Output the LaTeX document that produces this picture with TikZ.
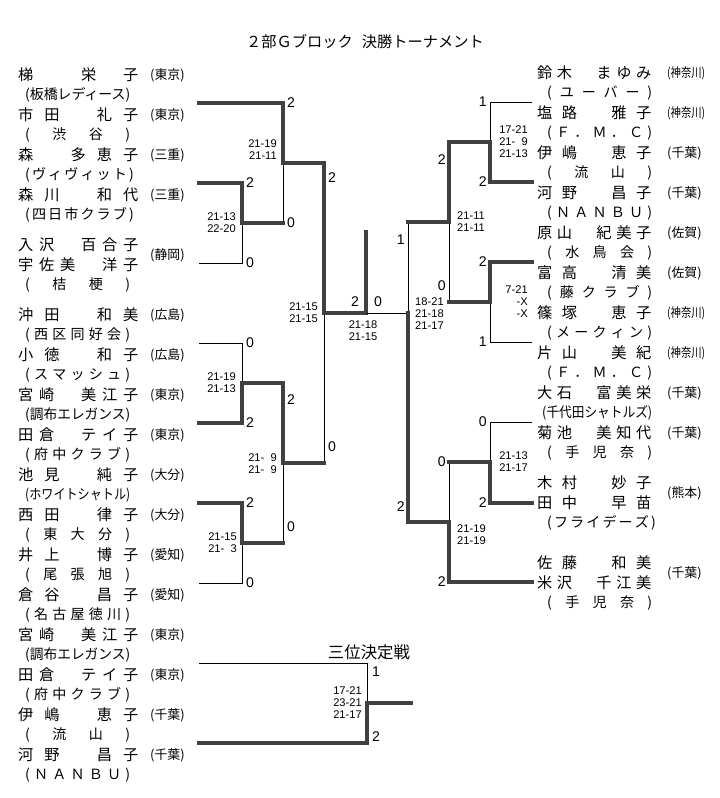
\documentclass[tikz,border=0pt]{standalone}
\usepackage{fontspec}
\usepackage{graphicx}
\setmainfont{Noto Sans CJK JP}
\newfontfamily\latinsf{Liberation Sans}
\newcommand\nm[2][3.6cm]{\makebox[#1][s]{#2}}
\newcommand\tm[1]{\makebox[3.15cm][s]{#1}}
\newcommand\tmc[2][3.15cm]{\resizebox{#1}{\height}{#2}}
\newcommand\kng{\resizebox{1.14cm}{\height}{(神奈川)}}
\tikzset{
  win/.style={line width=3pt,black!75,line cap=rect},
  lose/.style={line width=0.75pt,black},
  plyr/.style={anchor=west,inner sep=0pt,font=\fontsize{13}{13}\selectfont},
  club/.style={anchor=west,inner sep=0pt,font=\fontsize{12}{12}\selectfont},
  pref/.style={anchor=west,inner sep=0pt,font=\fontsize{11}{11}\selectfont},
  gl/.style={inner sep=0pt,font=\latinsf\fontsize{12}{12}\selectfont},
  sco/.style={inner sep=0pt,font=\latinsf\fontsize{9.5}{10.3}\selectfont},
}
\begin{document}
\begin{tikzpicture}[x=0.03cm,y=-0.03cm]
  \useasboundingbox (0,0) rectangle (720,798);
  \node[font=\fontsize{13}{13}\selectfont] (title) at (365,42) {２部Ｇブロック\hspace{0.6em}決勝トーナメント};

  % left half
  \coordinate (L1) at (199,103);
  \coordinate (L2) at (199,183);
  \coordinate (L3) at (199,263);
  \coordinate (L4) at (199,343);
  \coordinate (L5) at (199,423);
  \coordinate (L6) at (199,503);
  \coordinate (L7) at (199,583);
  \coordinate (mB) at (242,223);
  \coordinate (mA) at (283,163);
  \coordinate (mE) at (242,383);
  \coordinate (mF) at (242,543);
  \coordinate (mD) at (283,463);
  \coordinate (mC) at (324,313);
  \coordinate (fin) at (366,313);
  \coordinate (champ) at (366,232);

  \draw[lose] (L3) -| (mB);
  \draw[lose] (mB -| mA) -- (mA);
  \draw[lose] (L4) -| (mE);
  \draw[lose] (L7) -| (mF);
  \draw[lose] (mF -| mD) -- (mD);
  \draw[lose] (mD -| mC) -- (mC);
  \draw[win] (L1) -| (mA);
  \draw[win] (L2) -| (mB);
  \draw[win] (mB) -- (mB -| mA);
  \draw[win] (mA) -| (mC);
  \draw[win] (L5) -| (mE);
  \draw[win] (mE) -| (mD);
  \draw[win] (L6) -| (mF);
  \draw[win] (mF) -- (mF -| mD);
  \draw[win] (mD) -- (mD -| mC);
  \draw[win] (mC) -- (fin) -- (champ);

  % right half
  \coordinate (R1) at (532,102);
  \coordinate (R2) at (532,182);
  \coordinate (R3) at (532,262);
  \coordinate (R4) at (532,342);
  \coordinate (R5) at (532,422);
  \coordinate (R6) at (532,503);
  \coordinate (R7) at (532,582);
  \coordinate (n1) at (490,142);
  \coordinate (n2) at (490,302);
  \coordinate (n3) at (449,222);
  \coordinate (n4) at (490,462);
  \coordinate (n5) at (449,522);
  \coordinate (n6) at (408,313);

  \draw[lose] (R1) -| (n1);
  \draw[lose] (R4) -| (n2);
  \draw[lose] (n2 -| n3) -- (n3);
  \draw[lose] (n3 -| n6) -- (n6);
  \draw[lose] (R5) -| (n4);
  \draw[lose] (n4 -| n5) -- (n5);
  \draw[lose] (n6) -- (fin);
  \draw[win] (R2) -| (n1);
  \draw[win] (n1) -| (n3);
  \draw[win] (R3) -| (n2);
  \draw[win] (n2) -- (n2 -| n3);
  \draw[win] (n3) -- (n3 -| n6);
  \draw[win] (R6) -| (n4);
  \draw[win] (n4) -- (n4 -| n5);
  \draw[win] (R7) -| (n5);
  \draw[win] (n5) -| (n6);

  % third place
  \coordinate (T1) at (199,663);
  \coordinate (T2) at (199,743);
  \coordinate (m3) at (367,703);
  \coordinate (m3e) at (411,703);
  \draw[lose] (T1) -| (m3);
  \draw[win] (T2) -| (m3);
  \draw[win] (m3) -- (m3e);
  \node[font=\fontsize{14}{14}\selectfont] (t3) at (369,652) {三位決定戦};

  % games won
  \node[gl,anchor=west] (gA1) at (287,103) {2};
  \node[gl,anchor=west] (gA2) at (287,223) {0};
  \node[gl,anchor=west] (gB1) at (246,183) {2};
  \node[gl,anchor=west] (gB2) at (246,263) {0};
  \node[gl,anchor=west] (gC1) at (328,178) {2};
  \node[gl,anchor=west] (gC2) at (328,447) {0};
  \node[gl,anchor=west] (gE1) at (246,343) {0};
  \node[gl,anchor=west] (gE2) at (246,423) {2};
  \node[gl,anchor=west] (gD1) at (287,400) {2};
  \node[gl,anchor=west] (gD2) at (287,527) {0};
  \node[gl,anchor=west] (gF1) at (246,503) {2};
  \node[gl,anchor=west] (gF2) at (246,583) {0};
  \node[gl] (gfl) at (355,302) {2};
  \node[gl] (gfr) at (378,302) {0};
  \node[gl,anchor=east] (gr1) at (487,102) {1};
  \node[gl,anchor=east] (gr2) at (487,182) {2};
  \node[gl,anchor=east] (gr3) at (487,262) {2};
  \node[gl,anchor=east] (gr4) at (487,342) {1};
  \node[gl,anchor=east] (gr5) at (487,422) {0};
  \node[gl,anchor=east] (gr6) at (487,503) {2};
  \node[gl,anchor=east] (gs1) at (446,160) {2};
  \node[gl,anchor=east] (gs2) at (446,286) {0};
  \node[gl,anchor=east] (gs3) at (446,462) {0};
  \node[gl,anchor=east] (gs4) at (446,582) {2};
  \node[gl,anchor=east] (gq1) at (405,240) {1};
  \node[gl,anchor=east] (gq2) at (405,507) {2};
  \node[gl,anchor=west] (gt1) at (372,672) {1};
  \node[gl,anchor=west] (gt2) at (372,737) {2};

  % set scores
  \node[sco,anchor=east,align=right] (sA) at (277,150) {21-19\\21-11};
  \node[sco,anchor=east,align=right] (sB) at (236,223) {21-13\\22-20};
  \node[sco,anchor=east,align=right] (sC) at (318,313) {21-15\\21-15};
  \node[sco,anchor=east,align=right] (sE) at (236,383) {21-19\\21-13};
  \node[sco,anchor=east,align=right] (sD) at (277,464) {21-\hphantom{0}9\\21-\hphantom{0}9};
  \node[sco,anchor=east,align=right] (sF) at (237,543) {21-15\\21-\hphantom{0}3};
  \node[sco,align=center] (sfin) at (363,331) {21-18\\21-15};
  \node[sco,anchor=east,align=right] (sr1) at (528,142) {17-21\\21-\hphantom{0}9\\21-13};
  \node[sco,anchor=east,align=right] (sr2) at (528,302) {7-21\\-X\\-X};
  \node[sco,anchor=east,align=right] (sr3) at (528,462) {21-13\\21-17};
  \node[sco,anchor=west,align=left] (ss1) at (457,222) {21-11\\21-11};
  \node[sco,anchor=west,align=left] (sq) at (415,314) {18-21\\21-18\\21-17};
  \node[sco,anchor=west,align=left] (ss2) at (457,535) {21-19\\21-19};
  \node[sco,anchor=east,align=right] (st) at (362,703) {17-21\\23-21\\21-17};

  % left players
  \node[plyr] (lp1) at (18,75) {\nm{梯 　 　 栄 　 子}};
  \node[plyr] (lp2) at (18,115) {\nm{市 田 　 礼 子}};
  \node[plyr] (lp3) at (18,155) {\nm{森 　 多 恵 子}};
  \node[plyr] (lp4) at (18,195) {\nm{森 川 　 和 代}};
  \node[plyr] (lp5) at (18,245) {\nm{入 沢 　 百 合 子}};
  \node[plyr] (lp6) at (18,265) {\nm{宇 佐 美 　 洋 子}};
  \node[plyr] (lp7) at (18,315) {\nm{沖 田 　 和 美}};
  \node[plyr] (lp8) at (18,355) {\nm{小 徳 　 和 子}};
  \node[plyr] (lp9) at (18,395) {\nm{宮 崎 　 美 江 子}};
  \node[plyr] (lp10) at (18,435) {\nm{田 倉 　 テ イ 子}};
  \node[plyr] (lp11) at (18,475) {\nm{池 見 　 純 子}};
  \node[plyr] (lp12) at (18,515) {\nm{西 田 　 律 子}};
  \node[plyr] (lp13) at (18,555) {\nm{井 上 　 博 子}};
  \node[plyr] (lp14) at (18,595) {\nm{倉 谷 　 昌 子}};
  \node[plyr] (lp15) at (18,635) {\nm{宮 崎 　 美 江 子}};
  \node[plyr] (lp16) at (18,675) {\nm{田 倉 　 テ イ 子}};
  \node[plyr] (lp17) at (18,715) {\nm{伊 嶋 　 恵 子}};
  \node[plyr] (lp18) at (18,755) {\nm{河 野 　 昌 子}};

  % left clubs
  \node[club] (lc1) at (25,95) {\tmc{(板橋レディース)}};
  \node[club] (lc2) at (25,135) {\tm{( 渋 谷 )}};
  \node[club] (lc3) at (25,175) {\tm{( ヴ ィ ヴ ィ ッ ト )}};
  \node[club] (lc4) at (25,215) {\tm{( 四 日 市 ク ラ ブ )}};
  \node[club] (lc5) at (25,285) {\tm{( 桔 梗 )}};
  \node[club] (lc6) at (25,335) {\tm{( 西 区 同 好 会 )}};
  \node[club] (lc7) at (25,375) {\tm{( ス マ ッ シ ュ )}};
  \node[club] (lc8) at (25,415) {\tmc{(調布エレガンス)}};
  \node[club] (lc9) at (25,455) {\tm{( 府 中 ク ラ ブ )}};
  \node[club] (lc10) at (25,495) {\tmc{(ホワイトシャトル)}};
  \node[club] (lc11) at (25,535) {\tm{( 東 大 分 )}};
  \node[club] (lc12) at (25,575) {\tm{( 尾 張 旭 )}};
  \node[club] (lc13) at (25,615) {\tm{( 名 古 屋 徳 川 )}};
  \node[club] (lc14) at (25,655) {\tmc{(調布エレガンス)}};
  \node[club] (lc15) at (25,695) {\tm{( 府 中 ク ラ ブ )}};
  \node[club] (lc16) at (25,735) {\tm{( 流 山 )}};
  \node[club] (lc17) at (25,775) {\tm{( Ｎ Ａ Ｎ Ｂ Ｕ )}};

  % left prefectures
  \node[pref] (lf1) at (150,75) {(東京)};
  \node[pref] (lf2) at (150,115) {(東京)};
  \node[pref] (lf3) at (150,155) {(三重)};
  \node[pref] (lf4) at (150,195) {(三重)};
  \node[pref] (lf5) at (150,255) {(静岡)};
  \node[pref] (lf6) at (150,315) {(広島)};
  \node[pref] (lf7) at (150,355) {(広島)};
  \node[pref] (lf8) at (150,395) {(東京)};
  \node[pref] (lf9) at (150,435) {(東京)};
  \node[pref] (lf10) at (150,475) {(大分)};
  \node[pref] (lf11) at (150,515) {(大分)};
  \node[pref] (lf12) at (150,555) {(愛知)};
  \node[pref] (lf13) at (150,595) {(愛知)};
  \node[pref] (lf14) at (150,635) {(東京)};
  \node[pref] (lf15) at (150,675) {(東京)};
  \node[pref] (lf16) at (150,715) {(千葉)};
  \node[pref] (lf17) at (150,755) {(千葉)};

  % right players
  \node[plyr] (rp1) at (537,73) {\nm[3.42cm]{鈴 木 　 ま ゆ み}};
  \node[plyr] (rp2) at (537,113) {\nm[3.42cm]{塩 路 　 雅 子}};
  \node[plyr] (rp3) at (537,153) {\nm[3.42cm]{伊 嶋 　 恵 子}};
  \node[plyr] (rp4) at (537,193) {\nm[3.42cm]{河 野 　 昌 子}};
  \node[plyr] (rp5) at (537,233) {\nm[3.42cm]{原 山 　 紀 美 子}};
  \node[plyr] (rp6) at (537,273) {\nm[3.42cm]{富 高 　 清 美}};
  \node[plyr] (rp7) at (537,313) {\nm[3.42cm]{篠 塚 　 恵 子}};
  \node[plyr] (rp8) at (537,353) {\nm[3.42cm]{片 山 　 美 紀}};
  \node[plyr] (rp9) at (537,393) {\nm[3.42cm]{大 石 　 富 美 栄}};
  \node[plyr] (rp10) at (537,433) {\nm[3.42cm]{菊 池 　 美 知 代}};
  \node[plyr] (rp11) at (537,483) {\nm[3.42cm]{木 村 　 妙 子}};
  \node[plyr] (rp12) at (537,503) {\nm[3.42cm]{田 中 　 早 苗}};
  \node[plyr] (rp13) at (537,563) {\nm[3.42cm]{佐 藤 　 和 美}};
  \node[plyr] (rp14) at (537,583) {\nm[3.42cm]{米 沢 　 千 江 美}};

  % right clubs
  \node[club] (rc1) at (547,93) {\tm{( ユ ー バ ー )}};
  \node[club] (rc2) at (547,133) {\tm{( Ｆ ． Ｍ ． Ｃ )}};
  \node[club] (rc3) at (547,173) {\tm{( 流 山 )}};
  \node[club] (rc4) at (547,213) {\tm{( Ｎ Ａ Ｎ Ｂ Ｕ )}};
  \node[club] (rc5) at (547,253) {\tm{( 水 鳥 会 )}};
  \node[club] (rc6) at (547,293) {\tm{( 藤 ク ラ ブ )}};
  \node[club] (rc7) at (547,333) {\tm{( メ ー ク ィ ン )}};
  \node[club] (rc8) at (547,373) {\tm{( Ｆ ． Ｍ ． Ｃ )}};
  \node[club] (rc9) at (542,413) {\tmc[3.3cm]{(千代田シャトルズ)}};
  \node[club] (rc10) at (547,453) {\tm{( 手 児 奈 )}};
  \node[club] (rc11) at (547,523) {\tm{( フ ラ イ デ ー ズ )}};
  \node[club] (rc12) at (547,603) {\tm{( 手 児 奈 )}};

  % right prefectures
  \node[pref] (rf1) at (667,73) {\kng};
  \node[pref] (rf2) at (667,113) {\kng};
  \node[pref] (rf3) at (667,153) {(千葉)};
  \node[pref] (rf4) at (667,193) {(千葉)};
  \node[pref] (rf5) at (667,233) {(佐賀)};
  \node[pref] (rf6) at (667,273) {(佐賀)};
  \node[pref] (rf7) at (667,313) {\kng};
  \node[pref] (rf8) at (667,353) {\kng};
  \node[pref] (rf9) at (667,393) {(千葉)};
  \node[pref] (rf10) at (667,433) {(千葉)};
  \node[pref] (rf11) at (667,493) {(熊本)};
  \node[pref] (rf12) at (667,573) {(千葉)};
\end{tikzpicture}
\end{document}
